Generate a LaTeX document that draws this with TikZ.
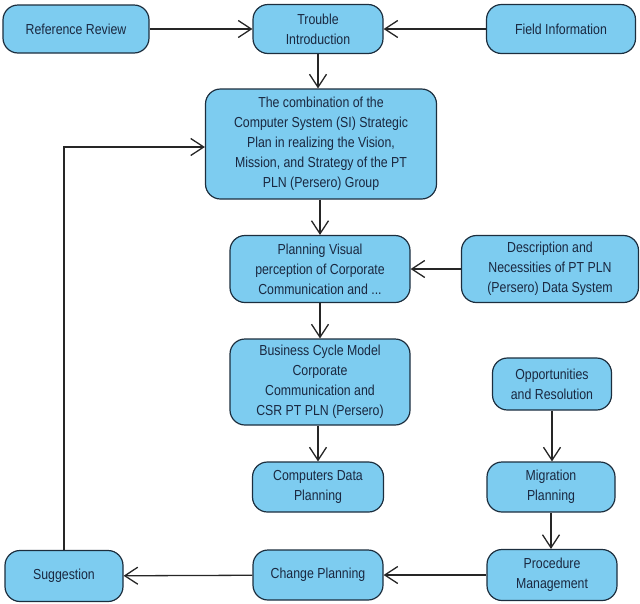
\documentclass[tikz,border=0pt]{standalone}
\usepackage{fontspec}
\setmainfont{Liberation Sans}[FakeStretch=0.85]
\usetikzlibrary{arrows.meta}
\definecolor{boxfill}{HTML}{7DCCF0}
\definecolor{boxline}{HTML}{1C2E3E}
\definecolor{boxtext}{HTML}{1A2840}
\begin{document}
\begin{tikzpicture}[x=1pt,y=-1pt,
  box/.style={draw=boxline,fill=boxfill,line width=1.2pt,rounded corners=15pt,
    align=center,inner sep=2pt,text=boxtext,font=\fontsize{14.5}{20}\selectfont},
  arr/.style={draw=black!85,line width=1.3pt,-{Straight Barb[length=13pt,width=17pt,line width=1.3pt]}}]
\useasboundingbox (0,0) rectangle (640,603);
\node[box,minimum width=146pt,minimum height=48pt] (rr) at (76,29) {Reference Review};
\node[box,minimum width=130pt,minimum height=49pt] (ti) at (318,29) {Trouble\\Introduction};
\node[box,minimum width=149pt,minimum height=49pt] (fi) at (561,29) {Field Information};
\node[box,minimum width=231pt,minimum height=110pt] (cs) at (321,144) {The combination of the\\Computer System (SI) Strategic\\Plan in realizing the Vision,\\Mission, and Strategy of the PT\\PLN (Persero) Group};
\node[box,minimum width=180pt,minimum height=67pt] (pv) at (320,269) {Planning Visual\\perception of Corporate\\Communication and ...};
\node[box,minimum width=177pt,minimum height=67pt] (dn) at (550,269) {Description and\\Necessities of PT PLN\\(Persero) Data System};
\node[box,minimum width=180pt,minimum height=86pt] (bc) at (320,382) {Business Cycle Model\\Corporate\\Communication and\\CSR PT PLN (Persero)};
\node[box,minimum width=119pt,minimum height=52pt] (op) at (552,384) {Opportunities\\and Resolution};
\node[box,minimum width=131pt,minimum height=50pt] (cd) at (318,487) {Computers Data\\Planning};
\node[box,minimum width=128pt,minimum height=50pt] (mp) at (551,487) {Migration\\Planning};
\node[box,minimum width=118pt,minimum height=51pt] (sg) at (64,576) {Suggestion};
\node[box,minimum width=130pt,minimum height=50pt] (cp) at (318,575) {Change Planning};
\node[box,minimum width=130pt,minimum height=51pt] (pm) at (552,575) {Procedure\\Management};
\draw[arr] (rr) -- (ti);
\draw[arr] (fi) -- (ti);
\draw[arr] (ti) -- (ti |- cs.north);
\draw[arr] (cs.south -| pv) -- (pv);
\draw[arr] (dn) -- (pv);
\draw[arr] (pv) -- (bc);
\draw[arr] (bc.south -| cd) -- (cd);
\draw[arr] (op) -- (op |- mp.north);
\draw[arr] (mp) -- (mp |- pm.north);
\draw[arr] (pm) -- (cp);
\draw[arr] (cp) -- (sg);
\draw[arr] (sg.north) -- (64,147) -- (cs.west |- 0,147);
\end{tikzpicture}
\end{document}
